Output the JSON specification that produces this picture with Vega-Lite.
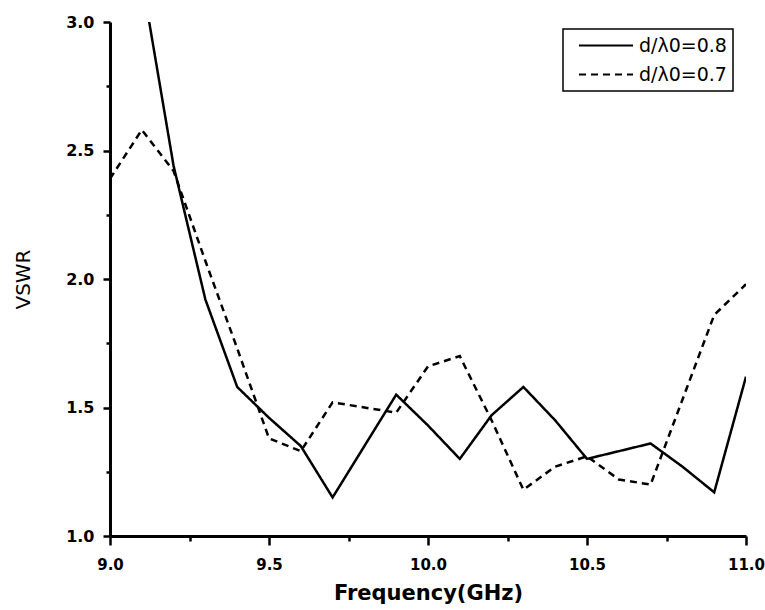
{
  "$schema": "https://vega.github.io/schema/vega-lite/v6.json",
  "width": 636,
  "height": 514,
  "autosize": {"type": "none"},
  "padding": {"left": 110, "top": 22, "right": 19, "bottom": 74},
  "background": "white",
  "config": {"view": {"stroke": null}, "font": "DejaVu Sans"},
  "data": {
    "values": [
      {"freq": 9.1, "vswr": 3.17, "series": "d/λ0=0.8"},
      {"freq": 9.2, "vswr": 2.44, "series": "d/λ0=0.8"},
      {"freq": 9.3, "vswr": 1.92, "series": "d/λ0=0.8"},
      {"freq": 9.4, "vswr": 1.58, "series": "d/λ0=0.8"},
      {"freq": 9.5, "vswr": 1.46, "series": "d/λ0=0.8"},
      {"freq": 9.6, "vswr": 1.35, "series": "d/λ0=0.8"},
      {"freq": 9.7, "vswr": 1.15, "series": "d/λ0=0.8"},
      {"freq": 9.8, "vswr": 1.35, "series": "d/λ0=0.8"},
      {"freq": 9.9, "vswr": 1.55, "series": "d/λ0=0.8"},
      {"freq": 10.0, "vswr": 1.43, "series": "d/λ0=0.8"},
      {"freq": 10.1, "vswr": 1.30, "series": "d/λ0=0.8"},
      {"freq": 10.2, "vswr": 1.47, "series": "d/λ0=0.8"},
      {"freq": 10.3, "vswr": 1.58, "series": "d/λ0=0.8"},
      {"freq": 10.4, "vswr": 1.45, "series": "d/λ0=0.8"},
      {"freq": 10.5, "vswr": 1.30, "series": "d/λ0=0.8"},
      {"freq": 10.6, "vswr": 1.33, "series": "d/λ0=0.8"},
      {"freq": 10.7, "vswr": 1.36, "series": "d/λ0=0.8"},
      {"freq": 10.8, "vswr": 1.27, "series": "d/λ0=0.8"},
      {"freq": 10.9, "vswr": 1.17, "series": "d/λ0=0.8"},
      {"freq": 11.0, "vswr": 1.62, "series": "d/λ0=0.8"},
      {"freq": 9.0, "vswr": 2.39, "series": "d/λ0=0.7"},
      {"freq": 9.1, "vswr": 2.58, "series": "d/λ0=0.7"},
      {"freq": 9.2, "vswr": 2.42, "series": "d/λ0=0.7"},
      {"freq": 9.3, "vswr": 2.07, "series": "d/λ0=0.7"},
      {"freq": 9.4, "vswr": 1.73, "series": "d/λ0=0.7"},
      {"freq": 9.5, "vswr": 1.38, "series": "d/λ0=0.7"},
      {"freq": 9.6, "vswr": 1.33, "series": "d/λ0=0.7"},
      {"freq": 9.7, "vswr": 1.52, "series": "d/λ0=0.7"},
      {"freq": 9.8, "vswr": 1.50, "series": "d/λ0=0.7"},
      {"freq": 9.9, "vswr": 1.48, "series": "d/λ0=0.7"},
      {"freq": 10.0, "vswr": 1.66, "series": "d/λ0=0.7"},
      {"freq": 10.1, "vswr": 1.70, "series": "d/λ0=0.7"},
      {"freq": 10.2, "vswr": 1.45, "series": "d/λ0=0.7"},
      {"freq": 10.3, "vswr": 1.18, "series": "d/λ0=0.7"},
      {"freq": 10.4, "vswr": 1.27, "series": "d/λ0=0.7"},
      {"freq": 10.5, "vswr": 1.31, "series": "d/λ0=0.7"},
      {"freq": 10.6, "vswr": 1.22, "series": "d/λ0=0.7"},
      {"freq": 10.7, "vswr": 1.20, "series": "d/λ0=0.7"},
      {"freq": 10.8, "vswr": 1.53, "series": "d/λ0=0.7"},
      {"freq": 10.9, "vswr": 1.86, "series": "d/λ0=0.7"},
      {"freq": 11.0, "vswr": 1.98, "series": "d/λ0=0.7"}
    ]
  },
  "mark": {"type": "line", "color": "black", "strokeWidth": 2.5, "clip": true},
  "encoding": {
    "x": {
      "field": "freq",
      "type": "quantitative",
      "scale": {"domain": [9, 11], "nice": false, "zero": false},
      "axis": {
        "title": "Frequency(GHz)",
        "values": [9, 9.25, 9.5, 9.75, 10, 10.25, 10.5, 10.75, 11],
        "labelExpr": "abs(datum.value*2-round(datum.value*2))<0.01 ? format(datum.value,'.1f') : ''",
        "grid": false,
        "domain": true,
        "domainColor": "black",
        "domainWidth": 3,
        "ticks": true,
        "tickColor": "black",
        "tickWidth": 2.5,
        "tickSize": 9,
        "tickDash": {"condition": {"test": "abs(datum.value*2-round(datum.value*2))<0.01", "value": [1, 0]}, "value": [5, 20]},
        "labelFont": "DejaVu Sans",
        "labelFontWeight": "bold",
        "labelFontSize": 15,
        "labelColor": "black",
        "labelPadding": 12,
        "labelFlush": false,
        "labelOverlap": false,
        "titleFont": "DejaVu Sans",
        "titleFontSize": 21,
        "titleFontWeight": "bold",
        "titleColor": "black",
        "titlePadding": 10
      }
    },
    "y": {
      "field": "vswr",
      "type": "quantitative",
      "scale": {"domain": [1, 3], "nice": false, "zero": false},
      "axis": {
        "title": "VSWR",
        "values": [1, 1.25, 1.5, 1.75, 2, 2.25, 2.5, 2.75, 3],
        "labelExpr": "abs(datum.value*2-round(datum.value*2))<0.01 ? format(datum.value,'.1f') : ''",
        "grid": false,
        "domain": true,
        "domainColor": "black",
        "domainWidth": 3,
        "ticks": true,
        "tickColor": "black",
        "tickWidth": 2.5,
        "tickSize": 7,
        "tickDash": {"condition": {"test": "abs(datum.value*2-round(datum.value*2))<0.01", "value": [1, 0]}, "value": [4, 20]},
        "labelFont": "DejaVu Sans",
        "labelFontWeight": "bold",
        "labelFontSize": 16,
        "labelColor": "black",
        "labelPadding": 9,
        "labelFlush": false,
        "labelOverlap": false,
        "titleFont": "DejaVu Sans",
        "titleFontSize": 20,
        "titleFontWeight": "normal",
        "titleColor": "black",
        "titlePadding": 32
      }
    },
    "strokeDash": {
      "field": "series",
      "type": "nominal",
      "scale": {"domain": ["d/λ0=0.8", "d/λ0=0.7"], "range": [[1, 0], [7, 5]]},
      "legend": {
        "orient": "none",
        "legendX": 453,
        "legendY": 7,
        "title": null,
        "strokeColor": "black",
        "fillColor": "white",
        "padding": 6,
        "symbolType": "stroke",
        "symbolSize": 2916,
        "symbolOffset": 9,
        "symbolStrokeWidth": 2,
        "symbolStrokeColor": "black",
        "labelFont": "DejaVu Sans",
        "labelFontSize": 19,
        "labelColor": "black",
        "labelLimit": 0,
        "clipHeight": 21,
        "rowPadding": 8,
        "labelOffset": 5,
        "encode": {"legend": {"update": {"strokeWidth": {"value": 1.5}}}}
      }
    }
  }
}
